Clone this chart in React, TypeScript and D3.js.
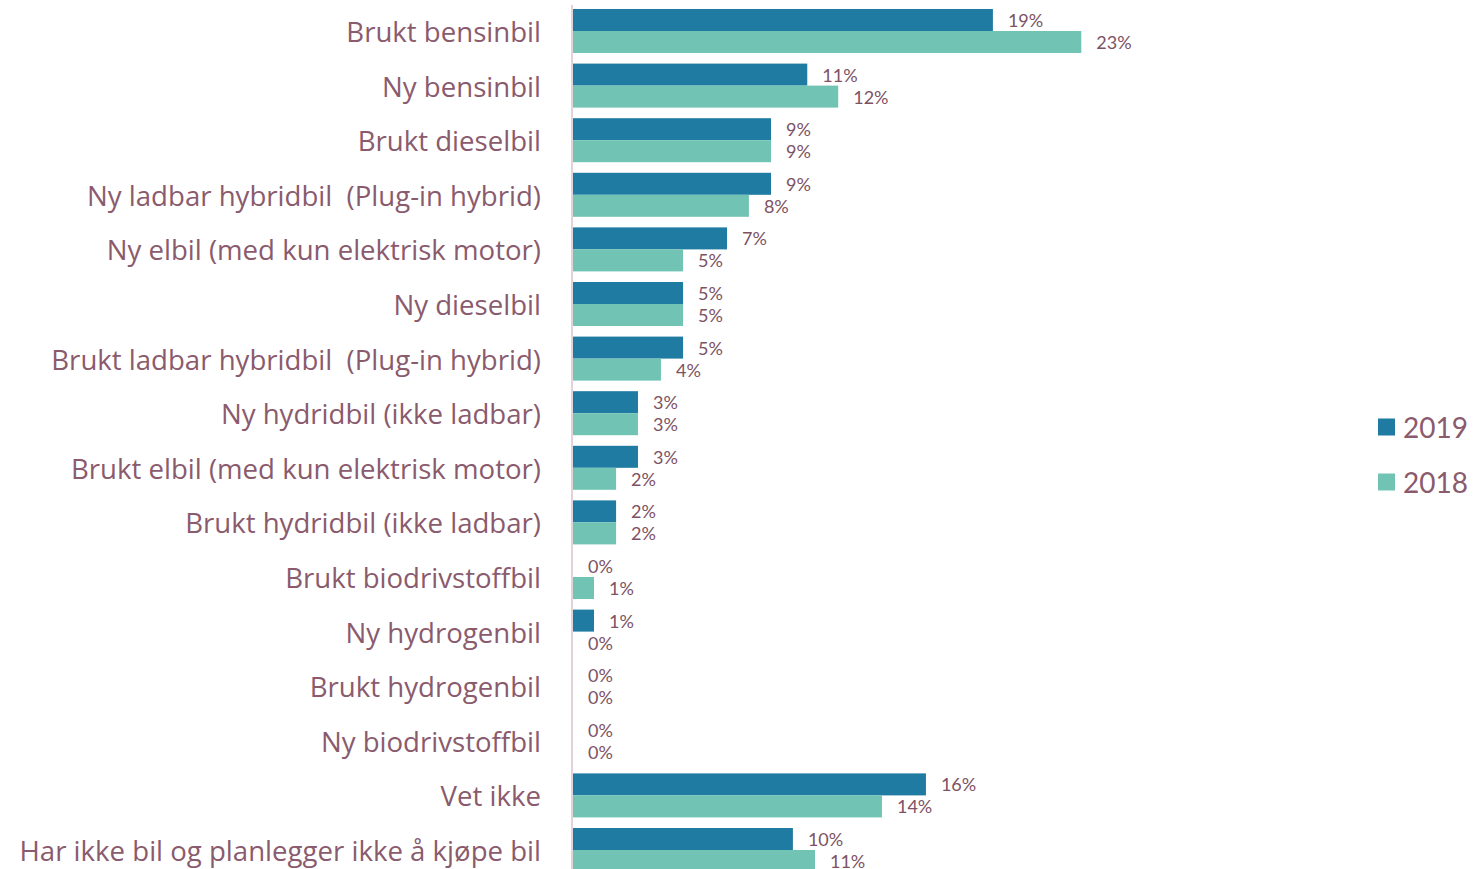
import { useMemo } from "react";
import * as d3 from "d3";

const WIDTH = 1473;
const HEIGHT = 869;

const categories = [
  "Brukt bensinbil",
  "Ny bensinbil",
  "Brukt dieselbil",
  "Ny ladbar hybridbil  (Plug-in hybrid)",
  "Ny elbil (med kun elektrisk motor)",
  "Ny dieselbil",
  "Brukt ladbar hybridbil  (Plug-in hybrid)",
  "Ny hydridbil (ikke ladbar)",
  "Brukt elbil (med kun elektrisk motor)",
  "Brukt hydridbil (ikke ladbar)",
  "Brukt biodrivstoffbil",
  "Ny hydrogenbil",
  "Brukt hydrogenbil",
  "Ny biodrivstoffbil",
  "Vet ikke",
  "Har ikke bil og planlegger ikke å kjøpe bil",
];

const series = ["2019", "2018"];

// share of respondents, in %
const values2019 = [19.0, 10.6, 8.96, 8.96, 6.97, 4.98, 4.98, 2.94, 2.94, 1.95, 0, 0.95, 0, 0, 15.97, 9.95];
const values2018 = [23.0, 12.0, 8.96, 7.96, 4.98, 4.98, 3.98, 2.94, 1.95, 1.95, 0.95, 0, 0, 0, 13.98, 10.95];

const COLORS = { "2019": "#1f7ba1", "2018": "#71c4b4" };
const TEXT_COLOR = "#8a5a6d";
const VALUE_COLOR = "#7d5263";
const LABEL_FONT = "'Open Sans', sans-serif";
const FONT = "Lato, 'Open Sans', sans-serif";

const AXIS_X = 573;

export default function App() {
  const rows = useMemo(
    () =>
      categories.map((c, i) => ({
        category: c,
        "2019": values2019[i],
        "2018": values2018[i],
      })),
    []
  );

  const yScale = useMemo(() => {
    const step = 54.6;
    const top = 31 - step / 2;
    return d3
      .scaleBand()
      .domain(categories)
      .range([top, top + step * categories.length])
      .paddingInner(0.194)
      .paddingOuter(0.097);
  }, []);

  const innerScale = useMemo(
    () => d3.scaleBand().domain(series).range([0, yScale.bandwidth()]),
    [yScale]
  );

  const xScale = useMemo(
    () => d3.scaleLinear().domain([0, 25]).range([AXIS_X, AXIS_X + 552.5]),
    []
  );

  const fmt = (v: number) => d3.format(".0f")(v) + "%";

  return (
    <svg
      width={WIDTH}
      height={HEIGHT}
      style={{ position: "absolute", left: 0, top: 0, background: "#fff" }}
      fontFamily={FONT}
    >
      {/* category labels */}
      {categories.map((c) => (
        <text
          key={c}
          x={541}
          y={(yScale(c) ?? 0) + yScale.bandwidth() / 2}
          textAnchor="end"
          dominantBaseline="central"
          fontSize={27.6}
          fontFamily={LABEL_FONT}
          fill={TEXT_COLOR}
          style={{ whiteSpace: "pre" }}
        >
          {c}
        </text>
      ))}

      {/* bars */}
      {rows.map((r) =>
        series.map((s) => {
          const y = (yScale(r.category) ?? 0) + (innerScale(s) ?? 0);
          const v = r[s as "2019" | "2018"];
          return (
            <g key={r.category + s}>
              <rect
                x={xScale(0)}
                y={y}
                width={Math.max(0, xScale(v) - xScale(0))}
                height={innerScale.bandwidth()}
                fill={COLORS[s as "2019" | "2018"]}
              />
              <text
                x={xScale(v) + 15}
                y={y + innerScale.bandwidth() / 2}
                dominantBaseline="central"
                fontSize={18}
                fill={VALUE_COLOR}
              >
                {fmt(v)}
              </text>
            </g>
          );
        })
      )}

      {/* axis line */}
      <line x1={AXIS_X - 1} x2={AXIS_X - 1} y1={5} y2={HEIGHT} stroke="#e3d3d9" strokeWidth={2} />

      {/* legend */}
      {series.map((s, i) => (
        <g key={s} transform={`translate(1378, ${427 + i * 55})`}>
          <rect x={0} y={-8.5} width={17} height={17} fill={COLORS[s as "2019" | "2018"]} />
          <text x={25} y={0} dominantBaseline="central" fontSize={28} fill={TEXT_COLOR}>
            {s}
          </text>
        </g>
      ))}
    </svg>
  );
}
